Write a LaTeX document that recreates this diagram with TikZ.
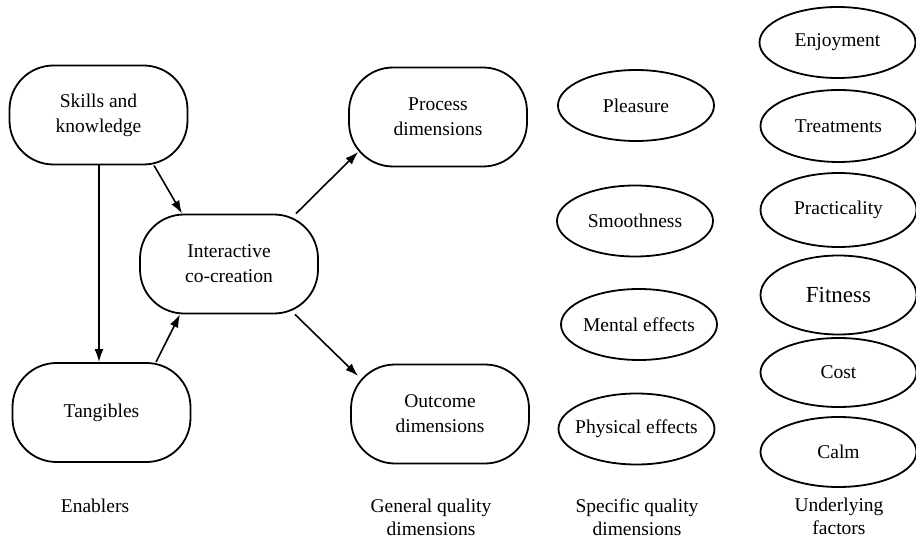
\documentclass[tikz,border=0pt]{standalone}
\usepackage{fontspec}
\setmainfont{Liberation Serif}
\usetikzlibrary{shapes.geometric,arrows.meta}
\newcommand{\ztxt}[1]{\makebox[0pt]{#1}}
\begin{document}
\begin{tikzpicture}[x=1pt,y=-1pt,
  rbox/.style={draw,line width=1.8pt,rounded corners=44pt,minimum width=178pt,minimum height=99pt,align=center,font=\fontsize{19.5}{25}\selectfont,inner sep=0pt},
  ell/.style={draw,line width=1.8pt,ellipse,minimum width=156pt,minimum height=71pt,inner sep=0pt,font=\fontsize{19.5}{24}\selectfont},
  lab/.style={align=center,font=\fontsize{19.5}{23}\selectfont},
  arr/.style={line width=1.6pt,-{Latex[length=13pt,width=9pt]}}]
\useasboundingbox (0,0) rectangle (916,540);
\node[rbox] (skills) at (98.5,115) {Skills and\\knowledge};
\node[rbox] (tang) at (101.5,412.5) {Tangibles};
\node[rbox] (inter) at (229,264) {Interactive\\co-creation};
\node[rbox] (proc) at (438,117) {Process\\dimensions};
\node[rbox] (outc) at (440,414) {Outcome\\dimensions};

\node[ell] (pleas) at (636,105.5) {\ztxt{Pleasure}};
\node[ell] (smooth) at (635,221) {\ztxt{Smoothness}};
\node[ell] (mental) at (639,324.5) {\ztxt{Mental effects}};
\node[ell] (phys) at (636.5,429) {\ztxt{Physical effects}};

\node[ell] (enj) at (837.5,42.5) {\ztxt{Enjoyment}};
\node[ell,minimum height=72pt] (treat) at (838.5,126) {\ztxt{Treatments}};
\node[ell,minimum height=74pt] (pract) at (838.5,210) {\ztxt{Practicality}};
\node[ell,minimum height=79pt,font=\fontsize{23}{26}\selectfont] (fit) at (838.5,295) {\ztxt{Fitness}};
\node[ell,minimum height=69pt] (cost) at (838.5,372.5) {\ztxt{Cost}};
\node[ell,minimum height=70pt] (calm) at (838.5,452) {\ztxt{Calm}};

\node[lab] (enab) at (95,506) {Enablers};
\node[lab] (gen) at (431,517) {General quality\\dimensions};
\node[lab] (spec) at (637,517) {Specific quality\\dimensions};
\node[lab] (und) at (839,516) {Underlying\\factors};

\draw[arr] (skills.south) ++(0.5pt,0) coordinate (sk1) -- (sk1 |- tang.north);
\draw[arr] ([xshift=55.5pt]skills.south) -- ([xshift=-47pt]inter.north);
\draw[arr] ([xshift=54.5pt]tang.north) -- ([xshift=-49pt]inter.south);
\draw[arr] ([xshift=67pt]inter.north) -- ([xshift=10pt,yshift=-35pt]proc.west);
\draw[arr] ([xshift=66pt]inter.south) -- ([xshift=8pt,yshift=38pt]outc.west);
\end{tikzpicture}
\end{document}
